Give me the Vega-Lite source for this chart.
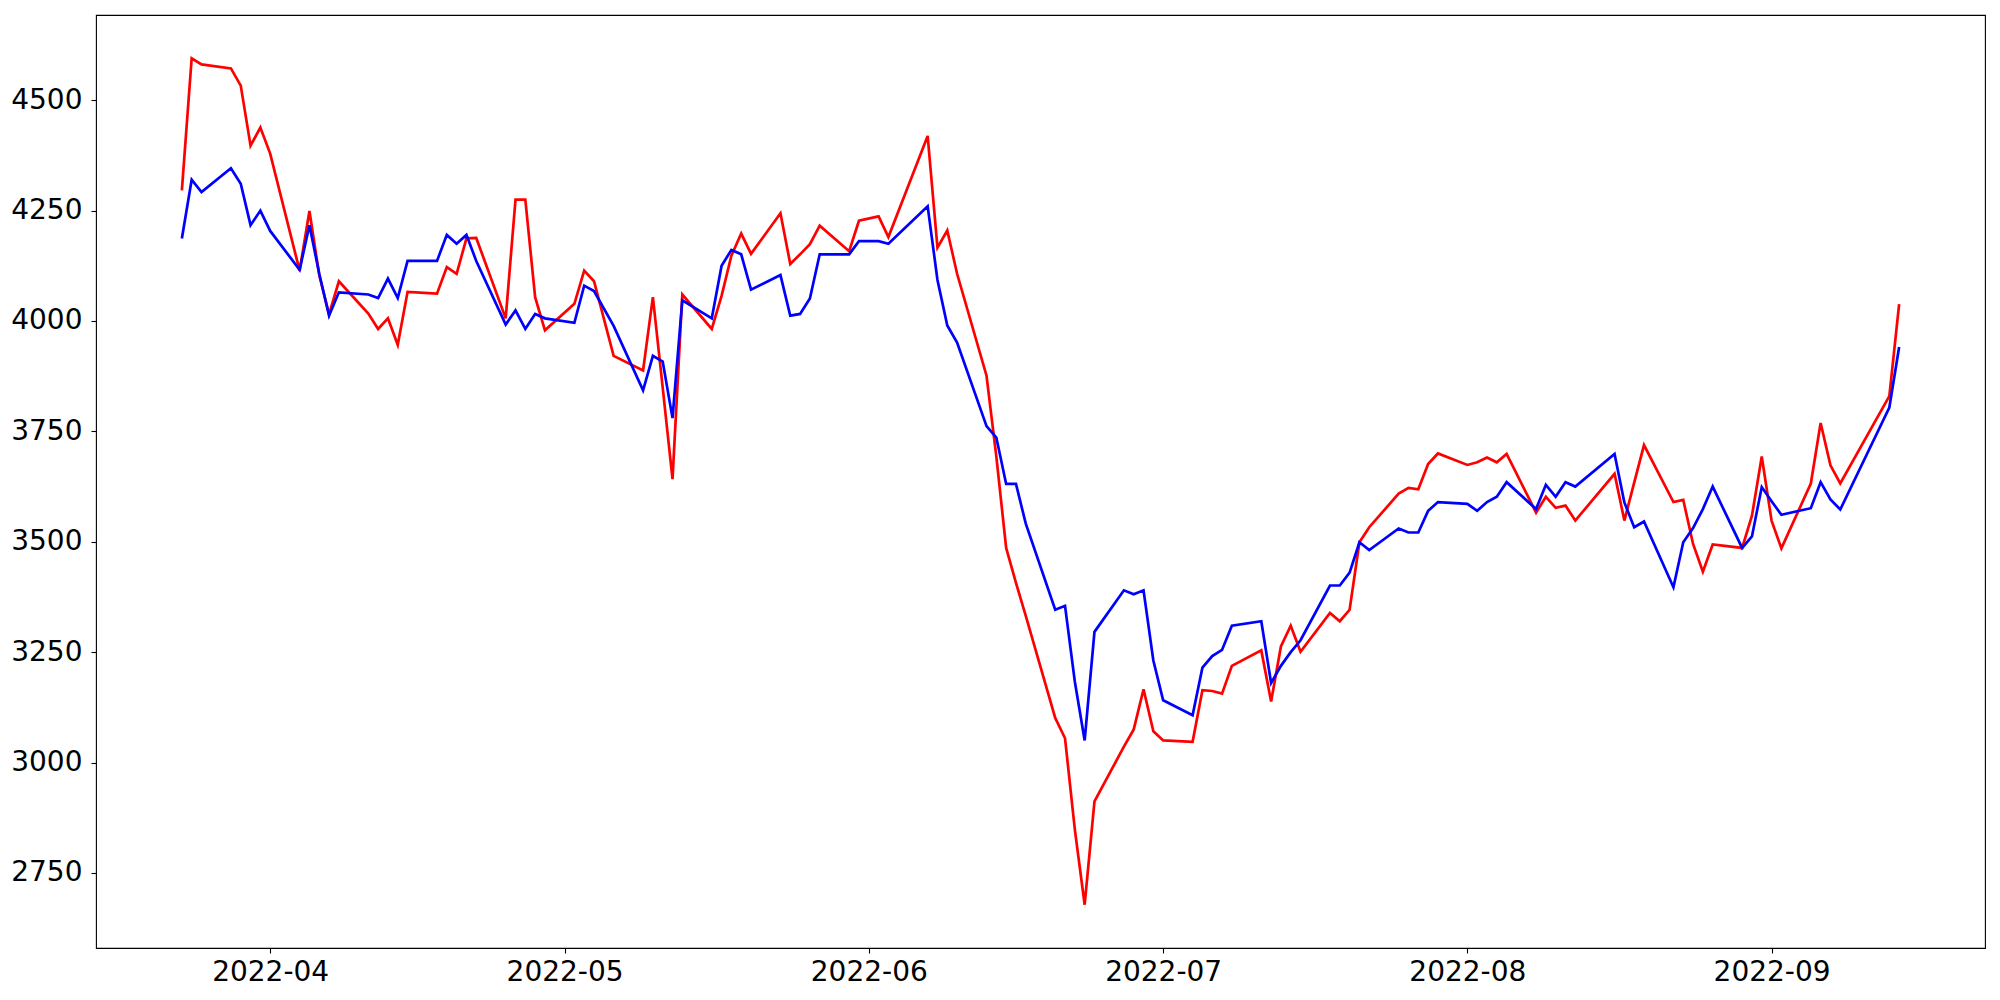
{
  "$schema": "https://vega.github.io/schema/vega-lite/v6.json",
  "width": 1889,
  "height": 933,
  "autosize": {"type": "none"},
  "padding": {"left": 96, "top": 15, "right": 15, "bottom": 52},
  "background": "white",
  "config": {
    "view": {"stroke": "black", "strokeWidth": 1.1},
    "axis": {
      "grid": false,
      "domain": false,
      "title": null,
      "labelFont": "DejaVu Sans",
      "labelFontSize": 28,
      "labelColor": "black",
      "tickColor": "black",
      "tickSize": 5,
      "tickWidth": 1.1,
      "labelPadding": 5,
      "labelFlush": false,
      "labelOverlap": false
    },
    "axisY": {"labelPadding": 9}
  },
  "data": {
    "values": [
      {"date": "2022-03-23", "red": 4296, "blue": 4187},
      {"date": "2022-03-24", "red": 4595, "blue": 4320},
      {"date": "2022-03-25", "red": 4581, "blue": 4292},
      {"date": "2022-03-28", "red": 4572, "blue": 4346},
      {"date": "2022-03-29", "red": 4533, "blue": 4311},
      {"date": "2022-03-30", "red": 4397, "blue": 4217},
      {"date": "2022-03-31", "red": 4438, "blue": 4250},
      {"date": "2022-04-01", "red": 4379, "blue": 4204},
      {"date": "2022-04-04", "red": 4114, "blue": 4116},
      {"date": "2022-04-05", "red": 4249, "blue": 4217},
      {"date": "2022-04-06", "red": 4104, "blue": 4107},
      {"date": "2022-04-07", "red": 4015, "blue": 4012},
      {"date": "2022-04-08", "red": 4090, "blue": 4065},
      {"date": "2022-04-11", "red": 4017, "blue": 4060},
      {"date": "2022-04-12", "red": 3982, "blue": 4052},
      {"date": "2022-04-13", "red": 4006, "blue": 4096},
      {"date": "2022-04-14", "red": 3946, "blue": 4052},
      {"date": "2022-04-15", "red": 4066, "blue": 4136},
      {"date": "2022-04-18", "red": 4062, "blue": 4136},
      {"date": "2022-04-19", "red": 4122, "blue": 4195},
      {"date": "2022-04-20", "red": 4107, "blue": 4175},
      {"date": "2022-04-21", "red": 4187, "blue": 4195},
      {"date": "2022-04-22", "red": 4188, "blue": 4136},
      {"date": "2022-04-25", "red": 4006, "blue": 3992},
      {"date": "2022-04-26", "red": 4275, "blue": 4024},
      {"date": "2022-04-27", "red": 4275, "blue": 3982},
      {"date": "2022-04-28", "red": 4054, "blue": 4016},
      {"date": "2022-04-29", "red": 3979, "blue": 4006},
      {"date": "2022-05-02", "red": 4039, "blue": 3996},
      {"date": "2022-05-03", "red": 4114, "blue": 4080},
      {"date": "2022-05-04", "red": 4090, "blue": 4068},
      {"date": "2022-05-06", "red": 3921, "blue": 3989},
      {"date": "2022-05-09", "red": 3888, "blue": 3843},
      {"date": "2022-05-10", "red": 4054, "blue": 3921},
      {"date": "2022-05-11", "red": 3849, "blue": 3908},
      {"date": "2022-05-12", "red": 3642, "blue": 3780},
      {"date": "2022-05-13", "red": 4060, "blue": 4047},
      {"date": "2022-05-16", "red": 3982, "blue": 4006},
      {"date": "2022-05-17", "red": 4057, "blue": 4125},
      {"date": "2022-05-18", "red": 4148, "blue": 4161},
      {"date": "2022-05-19", "red": 4198, "blue": 4151},
      {"date": "2022-05-20", "red": 4152, "blue": 4071},
      {"date": "2022-05-23", "red": 4244, "blue": 4104},
      {"date": "2022-05-24", "red": 4129, "blue": 4012},
      {"date": "2022-05-25", "red": 4151, "blue": 4016},
      {"date": "2022-05-26", "red": 4174, "blue": 4051},
      {"date": "2022-05-27", "red": 4216, "blue": 4151},
      {"date": "2022-05-30", "red": 4158, "blue": 4151},
      {"date": "2022-05-31", "red": 4227, "blue": 4181},
      {"date": "2022-06-02", "red": 4237, "blue": 4181},
      {"date": "2022-06-03", "red": 4190, "blue": 4175},
      {"date": "2022-06-07", "red": 4419, "blue": 4260},
      {"date": "2022-06-08", "red": 4166, "blue": 4093},
      {"date": "2022-06-09", "red": 4205, "blue": 3990},
      {"date": "2022-06-10", "red": 4107, "blue": 3951},
      {"date": "2022-06-13", "red": 3876, "blue": 3762},
      {"date": "2022-06-14", "red": 3693, "blue": 3736},
      {"date": "2022-06-15", "red": 3486, "blue": 3631},
      {"date": "2022-06-16", "red": 3407, "blue": 3631},
      {"date": "2022-06-17", "red": 3332, "blue": 3541},
      {"date": "2022-06-20", "red": 3101, "blue": 3346},
      {"date": "2022-06-21", "red": 3055, "blue": 3355},
      {"date": "2022-06-22", "red": 2848, "blue": 3183},
      {"date": "2022-06-23", "red": 2678, "blue": 3050},
      {"date": "2022-06-24", "red": 2912, "blue": 3296},
      {"date": "2022-06-27", "red": 3036, "blue": 3390},
      {"date": "2022-06-28", "red": 3075, "blue": 3381},
      {"date": "2022-06-29", "red": 3166, "blue": 3390},
      {"date": "2022-06-30", "red": 3071, "blue": 3231},
      {"date": "2022-07-01", "red": 3050, "blue": 3141},
      {"date": "2022-07-04", "red": 3047, "blue": 3107},
      {"date": "2022-07-05", "red": 3164, "blue": 3215},
      {"date": "2022-07-06", "red": 3162, "blue": 3241},
      {"date": "2022-07-07", "red": 3156, "blue": 3255},
      {"date": "2022-07-08", "red": 3219, "blue": 3310},
      {"date": "2022-07-11", "red": 3254, "blue": 3320},
      {"date": "2022-07-12", "red": 3138, "blue": 3180},
      {"date": "2022-07-13", "red": 3263, "blue": 3219},
      {"date": "2022-07-14", "red": 3310, "blue": 3250},
      {"date": "2022-07-15", "red": 3251, "blue": 3277},
      {"date": "2022-07-18", "red": 3339, "blue": 3401},
      {"date": "2022-07-19", "red": 3320, "blue": 3401},
      {"date": "2022-07-20", "red": 3346, "blue": 3430},
      {"date": "2022-07-21", "red": 3499, "blue": 3499},
      {"date": "2022-07-22", "red": 3533, "blue": 3481},
      {"date": "2022-07-25", "red": 3609, "blue": 3530},
      {"date": "2022-07-26", "red": 3622, "blue": 3521},
      {"date": "2022-07-27", "red": 3619, "blue": 3521},
      {"date": "2022-07-28", "red": 3676, "blue": 3570},
      {"date": "2022-07-29", "red": 3700, "blue": 3590},
      {"date": "2022-08-01", "red": 3674, "blue": 3586},
      {"date": "2022-08-02", "red": 3680, "blue": 3570},
      {"date": "2022-08-03", "red": 3691, "blue": 3590},
      {"date": "2022-08-04", "red": 3680, "blue": 3602},
      {"date": "2022-08-05", "red": 3699, "blue": 3635},
      {"date": "2022-08-08", "red": 3566, "blue": 3574},
      {"date": "2022-08-09", "red": 3602, "blue": 3629},
      {"date": "2022-08-10", "red": 3577, "blue": 3602},
      {"date": "2022-08-11", "red": 3582, "blue": 3635},
      {"date": "2022-08-12", "red": 3548, "blue": 3625},
      {"date": "2022-08-16", "red": 3654, "blue": 3699},
      {"date": "2022-08-17", "red": 3548, "blue": 3589},
      {"date": "2022-08-18", "red": 3634, "blue": 3533},
      {"date": "2022-08-19", "red": 3719, "blue": 3546},
      {"date": "2022-08-22", "red": 3590, "blue": 3397},
      {"date": "2022-08-23", "red": 3595, "blue": 3499},
      {"date": "2022-08-24", "red": 3495, "blue": 3531},
      {"date": "2022-08-25", "red": 3432, "blue": 3574},
      {"date": "2022-08-26", "red": 3494, "blue": 3625},
      {"date": "2022-08-29", "red": 3486, "blue": 3486},
      {"date": "2022-08-30", "red": 3559, "blue": 3512},
      {"date": "2022-08-31", "red": 3693, "blue": 3624},
      {"date": "2022-09-01", "red": 3548, "blue": 3592},
      {"date": "2022-09-02", "red": 3485, "blue": 3561},
      {"date": "2022-09-05", "red": 3632, "blue": 3576},
      {"date": "2022-09-06", "red": 3769, "blue": 3635},
      {"date": "2022-09-07", "red": 3673, "blue": 3596},
      {"date": "2022-09-08", "red": 3632, "blue": 3573},
      {"date": "2022-09-13", "red": 3830, "blue": 3804},
      {"date": "2022-09-14", "red": 4038, "blue": 3941}
    ]
  },
  "encoding": {
    "x": {
      "field": "date",
      "type": "temporal",
      "scale": {
        "type": "utc",
        "domain": [
          {"year": 2022, "month": 3, "date": 14, "hours": 6, "utc": true},
          {"year": 2022, "month": 9, "date": 22, "hours": 18, "utc": true}
        ],
        "nice": false
      },
      "axis": {
        "labelExpr": "utcFormat(datum.value, '%Y-%m')",
        "values": [
          {"year": 2022, "month": 4, "date": 1, "utc": true},
          {"year": 2022, "month": 5, "date": 1, "utc": true},
          {"year": 2022, "month": 6, "date": 1, "utc": true},
          {"year": 2022, "month": 7, "date": 1, "utc": true},
          {"year": 2022, "month": 8, "date": 1, "utc": true},
          {"year": 2022, "month": 9, "date": 1, "utc": true}
        ]
      }
    }
  },
  "layer": [
    {
      "mark": {"type": "line", "color": "#ff0000", "strokeWidth": 2.7},
      "encoding": {
        "y": {
          "field": "red",
          "type": "quantitative",
          "scale": {"domain": [2580, 4693], "zero": false, "nice": false},
          "axis": {"format": "d", "values": [2750, 3000, 3250, 3500, 3750, 4000, 4250, 4500]}
        }
      }
    },
    {
      "mark": {"type": "line", "color": "#0000ff", "strokeWidth": 2.7},
      "encoding": {
        "y": {
          "field": "blue",
          "type": "quantitative",
          "scale": {"domain": [2580, 4693], "zero": false, "nice": false},
          "axis": {"format": "d", "values": [2750, 3000, 3250, 3500, 3750, 4000, 4250, 4500]}
        }
      }
    }
  ]
}
